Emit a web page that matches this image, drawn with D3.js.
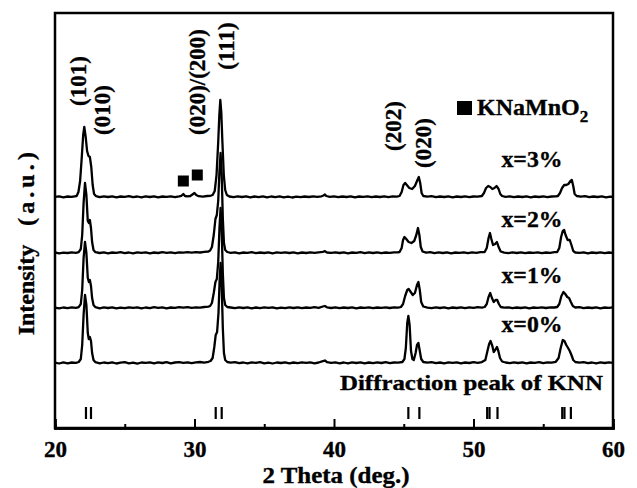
<!DOCTYPE html>
<html><head><meta charset="utf-8">
<script src="https://d3js.org/d3.v7.min.js"></script>
<style>
html,body{margin:0;padding:0;background:#fff;}
text{font-family:"Liberation Serif","Times New Roman",serif;font-weight:bold;fill:#000;stroke:#000;stroke-width:0.35px;}
</style></head>
<body><div id="chart"></div>
<script>
// ---- data: [2θ (deg), intensity (a.u.)] ----
const sampleLabels = ["x=0%","x=1%","x=2%","x=3%"];
const baselineOffsets = [65,120,175,231];

const pattern0 = [[20.0,0.4],[20.3,-0.5],[20.6,0.6],[20.9,-0.3],[21.2,0.5],[21.5,0.2],[21.7,1.0],[21.85,4],[21.95,18],[22.05,48],[22.15,68],[22.25,58],[22.35,30],[22.42,24],[22.5,26],[22.58,22],[22.66,10],[22.76,3],[22.9,0.8],[23.2,-0.4],[23.5,0.5],[23.8,-0.2],[24.1,0.6],[24.4,-0.5],[24.7,0.3],[25.0,0.8],[25.3,-0.3],[25.6,0.4],[25.9,-0.6],[26.2,0.5],[26.5,0.1],[26.8,0.7],[27.1,-0.4],[27.4,0.6],[27.7,0],[28.0,0.8],[28.3,-0.3],[28.6,0.5],[28.9,0.9],[29.2,0.2],[29.5,0.7],[29.8,-0.2],[30.1,0.6],[30.4,1.0],[30.7,0.4],[31.0,1.2],[31.15,2],[31.3,5],[31.42,16],[31.52,28],[31.62,31],[31.72,50],[31.8,82],[31.87,100],[31.95,78],[32.03,35],[32.11,10],[32.2,3],[32.35,1],[32.6,0.3],[32.9,0.8],[33.2,-0.2],[33.5,0.5],[33.8,-0.4],[34.1,0.6],[34.4,0.1],[34.7,0.8],[35.0,-0.3],[35.3,0.4],[35.6,-0.5],[35.9,0.5],[36.2,0],[36.5,0.7],[36.8,-0.3],[37.1,0.5],[37.4,-0.2],[37.7,0.6],[38.0,0.1],[38.3,0.7],[38.6,-0.3],[38.9,0.5],[39.2,1.8],[39.35,2.5],[39.5,0.8],[39.8,0.2],[40.1,0.7],[40.4,-0.3],[40.7,0.5],[41.0,-0.4],[41.3,0.6],[41.6,0],[41.9,0.7],[42.2,-0.3],[42.5,0.5],[42.8,-0.2],[43.1,0.6],[43.4,0],[43.7,0.8],[44.0,-0.2],[44.3,0.5],[44.6,0.3],[44.9,1.0],[45.05,4],[45.15,15],[45.25,40],[45.33,47],[45.42,38],[45.52,12],[45.62,4],[45.72,3],[45.85,10],[45.95,18],[46.05,20],[46.15,12],[46.25,4],[46.4,1],[46.7,0.3],[47.0,0.8],[47.3,-0.2],[47.6,0.5],[47.9,-0.3],[48.2,0.6],[48.5,0.1],[48.8,0.7],[49.1,-0.3],[49.4,0.5],[49.7,0],[50.0,0.8],[50.3,0.2],[50.6,0.9],[50.85,3],[51.0,12],[51.12,19],[51.22,22],[51.35,17],[51.45,11],[51.55,13],[51.68,16],[51.78,12],[51.9,5],[52.05,1.5],[52.3,0.5],[52.6,-0.2],[52.9,0.6],[53.2,0],[53.5,0.7],[53.8,-0.3],[54.1,0.5],[54.4,0.1],[54.7,0.8],[55.0,-0.2],[55.3,0.6],[55.6,0.4],[55.9,1.2],[56.1,5],[56.25,15],[56.4,23],[56.52,22],[56.65,18],[56.78,15],[56.9,12],[57.02,8],[57.15,3],[57.3,1],[57.6,0.3],[57.9,0.8],[58.2,-0.2],[58.5,0.5],[58.8,-0.4],[59.1,0.6],[59.4,0],[59.7,0.7],[60.0,0.2]];

const pattern1 = [[20.0,0.3],[20.3,-0.4],[20.6,0.5],[20.9,-0.2],[21.2,0.6],[21.5,0.1],[21.7,0.9],[21.85,4],[21.95,18],[22.05,50],[22.15,66],[22.25,55],[22.35,30],[22.43,26],[22.5,28],[22.58,22],[22.66,10],[22.76,3],[22.9,0.8],[23.2,-0.3],[23.5,0.6],[23.8,0],[24.1,0.7],[24.4,-0.4],[24.7,0.4],[25.0,-0.2],[25.3,0.7],[25.6,0.1],[25.9,0.6],[26.2,-0.4],[26.5,0.5],[26.8,-0.1],[27.1,0.8],[27.4,0.2],[27.7,0.6],[28.0,-0.3],[28.3,0.5],[28.6,0.1],[28.9,0.8],[29.2,0.3],[29.5,0.9],[29.8,0.2],[30.1,0.7],[30.4,0.4],[30.7,1.0],[31.0,1.4],[31.12,2],[31.25,5],[31.38,15],[31.5,26],[31.6,29],[31.7,46],[31.79,80],[31.87,100],[31.95,78],[32.03,35],[32.11,10],[32.2,3],[32.35,1],[32.6,0.5],[32.9,-0.2],[33.2,0.6],[33.5,0],[33.8,0.7],[34.1,-0.3],[34.4,0.5],[34.7,-0.1],[35.0,0.6],[35.3,0.1],[35.6,0.7],[35.9,-0.3],[36.2,0.4],[36.5,-0.2],[36.8,0.6],[37.1,0],[37.4,0.7],[37.7,-0.2],[38.0,0.5],[38.3,0.1],[38.6,0.8],[38.9,0.2],[39.2,1.5],[39.35,2],[39.5,0.6],[39.8,0],[40.1,0.6],[40.4,-0.2],[40.7,0.5],[41.0,0],[41.3,0.7],[41.6,-0.3],[41.9,0.5],[42.2,0.1],[42.5,0.7],[42.8,-0.2],[43.1,0.5],[43.4,0.2],[43.7,0.6],[44.0,0],[44.3,0.7],[44.6,0.4],[44.8,1],[44.95,4],[45.1,12],[45.25,18],[45.35,19],[45.5,16],[45.65,13],[45.8,15],[45.95,23],[46.05,26],[46.15,18],[46.25,6],[46.4,1.5],[46.7,0.4],[47.0,-0.2],[47.3,0.6],[47.6,0],[47.9,0.7],[48.2,-0.3],[48.5,0.5],[48.8,0],[49.1,0.7],[49.4,-0.2],[49.7,0.6],[50.0,0.1],[50.3,0.8],[50.6,0.4],[50.8,1],[50.95,4],[51.08,11],[51.2,15],[51.32,10],[51.45,6],[51.58,8],[51.7,8],[51.82,4],[51.95,1],[52.2,0.3],[52.5,0.7],[52.8,-0.2],[53.1,0.5],[53.4,0],[53.7,0.7],[54.0,-0.3],[54.3,0.5],[54.6,0.1],[54.9,0.7],[55.2,0],[55.5,0.6],[55.8,0.5],[56.0,1],[56.15,4],[56.3,12],[56.45,16],[56.58,14],[56.72,11],[56.85,10],[56.98,6],[57.12,2],[57.3,0.5],[57.6,0.8],[57.9,-0.2],[58.2,0.5],[58.5,0],[58.8,0.7],[59.1,-0.3],[59.4,0.5],[59.7,0.1],[60.0,0.6]];

const pattern2 = [[20.0,0.5],[20.3,-0.3],[20.6,0.4],[20.9,0],[21.2,0.7],[21.5,0.2],[21.7,0.9],[21.85,4],[21.95,18],[22.05,50],[22.15,70],[22.25,58],[22.35,32],[22.43,30],[22.5,33],[22.58,25],[22.66,11],[22.76,3],[22.9,0.8],[23.2,0],[23.5,0.6],[23.8,-0.3],[24.1,0.5],[24.4,0.1],[24.7,0.8],[25.0,-0.2],[25.3,0.5],[25.6,-0.4],[25.9,0.6],[26.2,0.1],[26.5,0.7],[26.8,-0.3],[27.1,0.5],[27.4,0],[27.7,0.8],[28.0,0.2],[28.3,0.6],[28.6,-0.2],[28.9,0.7],[29.2,0.3],[29.5,0.8],[29.8,0.4],[30.1,0.9],[30.4,0.5],[30.7,1.1],[31.0,1.5],[31.12,2.5],[31.25,6],[31.38,18],[31.5,34],[31.6,38],[31.7,52],[31.79,82],[31.87,100],[31.95,78],[32.03,35],[32.11,10],[32.2,3],[32.35,1],[32.6,0.2],[32.9,0.7],[33.2,-0.3],[33.5,0.5],[33.8,0.1],[34.1,0.8],[34.4,-0.2],[34.7,0.5],[35.0,0],[35.3,0.7],[35.6,-0.3],[35.9,0.6],[36.2,0.2],[36.5,0.7],[36.8,0],[37.1,0.6],[37.4,-0.3],[37.7,0.5],[38.0,0],[38.3,0.6],[38.6,0.1],[38.9,0.7],[39.2,1.2],[39.35,1.8],[39.5,0.5],[39.8,0.1],[40.1,0.7],[40.4,0],[40.7,0.6],[41.0,-0.3],[41.3,0.5],[41.6,0.1],[41.9,0.8],[42.2,-0.2],[42.5,0.6],[42.8,0],[43.1,0.7],[43.4,-0.2],[43.7,0.5],[44.0,0.2],[44.3,0.7],[44.55,0.6],[44.7,1],[44.85,5],[44.95,13],[45.05,16],[45.18,14],[45.35,11],[45.55,10],[45.75,12],[45.9,18],[46.02,25],[46.12,18],[46.22,6],[46.35,1.5],[46.6,0.3],[46.9,0.8],[47.2,-0.2],[47.5,0.6],[47.8,0],[48.1,0.7],[48.4,-0.3],[48.7,0.5],[49.0,0.1],[49.3,0.7],[49.6,-0.2],[49.9,0.6],[50.2,0.2],[50.5,0.8],[50.8,1],[50.95,5],[51.08,15],[51.18,20],[51.28,14],[51.4,8],[51.55,9],[51.68,11],[51.8,6],[51.95,1.5],[52.2,0.4],[52.5,-0.2],[52.8,0.6],[53.1,0],[53.4,0.7],[53.7,-0.2],[54.0,0.5],[54.3,0.1],[54.6,0.7],[54.9,-0.2],[55.2,0.5],[55.5,0.2],[55.8,0.8],[56.0,1],[56.15,5],[56.28,16],[56.4,22],[56.5,23],[56.6,18],[56.75,13],[56.9,13],[57.02,8],[57.15,2],[57.3,0.5],[57.6,0.1],[57.9,0.7],[58.2,-0.3],[58.5,0.5],[58.8,0],[59.1,0.7],[59.4,-0.2],[59.7,0.5],[60.0,0.1]];

const pattern3 = [[20.0,0.2],[20.3,0.7],[20.6,-0.3],[20.9,0.5],[21.2,0.1],[21.4,0.7],[21.55,1],[21.68,5],[21.8,16],[21.92,40],[22.02,62],[22.1,70],[22.2,60],[22.3,46],[22.4,41],[22.5,40],[22.6,30],[22.7,12],[22.8,3],[22.95,0.8],[23.2,-0.2],[23.5,0.6],[23.8,0],[24.1,0.7],[24.4,-0.3],[24.7,0.5],[25.0,0.1],[25.3,0.8],[25.6,-0.2],[25.9,0.5],[26.2,-0.4],[26.5,0.6],[26.8,0],[27.1,0.7],[27.4,-0.3],[27.7,0.5],[28.0,0.1],[28.3,0.6],[28.6,-0.2],[28.9,0.6],[29.05,1.2],[29.2,3],[29.32,1],[29.5,0.6],[29.7,1],[29.85,2.5],[30.0,4],[30.12,2],[30.3,0.8],[30.6,0.4],[30.9,1],[31.15,1.2],[31.3,2],[31.45,6],[31.58,22],[31.7,55],[31.78,82],[31.85,97],[31.92,85],[32.0,55],[32.1,22],[32.2,7],[32.32,2],[32.5,0.5],[32.8,-0.2],[33.1,0.6],[33.4,0],[33.7,0.7],[34.0,-0.3],[34.3,0.5],[34.6,-0.1],[34.9,0.6],[35.2,-0.4],[35.5,0.5],[35.8,-0.1],[36.1,0.6],[36.4,-0.3],[36.7,0.4],[37.0,-0.5],[37.3,0.3],[37.6,-0.2],[37.9,0.5],[38.2,0],[38.5,0.6],[38.8,0.1],[39.1,0.7],[39.25,1.5],[39.35,2.5],[39.45,1],[39.7,0.2],[40.0,0.7],[40.3,-0.2],[40.6,0.5],[40.9,0],[41.2,0.6],[41.5,-0.3],[41.8,0.5],[42.1,0.1],[42.4,0.7],[42.7,-0.2],[43.0,0.5],[43.3,0],[43.6,0.6],[43.9,-0.1],[44.2,0.6],[44.5,0.3],[44.7,1],[44.85,5],[44.98,12],[45.1,14],[45.22,12],[45.4,9],[45.6,8],[45.8,11],[45.98,17],[46.08,20],[46.18,14],[46.28,4],[46.4,1],[46.7,0.3],[47.0,0.8],[47.3,-0.2],[47.6,0.5],[47.9,0],[48.2,0.7],[48.5,-0.3],[48.8,0.5],[49.1,0],[49.4,0.6],[49.7,-0.2],[50.0,0.5],[50.3,0.3],[50.6,1],[50.75,4],[50.9,9],[51.05,11],[51.2,10],[51.35,8],[51.5,9],[51.65,11],[51.8,8],[51.92,3],[52.05,1],[52.3,0.2],[52.6,0.7],[52.9,-0.2],[53.2,0.5],[53.5,0],[53.8,0.6],[54.1,-0.3],[54.4,0.5],[54.7,0],[55.0,0.6],[55.3,-0.2],[55.6,0.5],[55.9,0.6],[56.05,1],[56.2,4],[56.35,9],[56.5,12],[56.65,12],[56.8,13],[56.95,16],[57.05,17],[57.15,11],[57.25,3],[57.4,1],[57.7,0.3],[58.0,0.8],[58.3,-0.2],[58.6,0.5],[58.9,0],[59.2,0.6],[59.5,-0.3],[59.8,0.4],[60.0,0.1]];

const patterns = [pattern0, pattern1, pattern2, pattern3];

// KNN reference diffraction peaks (2θ)
const knnPeaks = [22.22,22.58,31.52,31.95,45.33,46.12,50.98,51.15,51.72,56.36,56.52,56.98];
// KNaMnO2 impurity peaks in x=3% (2θ, marker intensity)
const impurityTheta = [29.2,30.2];
const impurityLevel = [247,253];
// hkl labels
const hklText = ["(101)","(010)","(020)/(200)","(111)","(202)","(020)"];
const hklTheta = [21.65,23.37,30.25,32.27,44.3,46.45];
const hklLevel = [347,318,346,382,302,285];
// axis ticks
const majorTicks = [20,30,40,50,60];
const minorTicks = [25,35,45,55];

// ---- drawing ----
const W = 637, H = 488;
const svg = d3.select("#chart").append("svg").attr("width",W).attr("height",H);
const x = d3.scaleLinear().domain([20,60]).range([55,613]);
const y = d3.scaleLinear().domain([0,415]).range([428,13]);

// frame
svg.append("rect").attr("x",x(20)).attr("y",y(415)).attr("width",x(60)-x(20)).attr("height",y(0)-y(415))
  .attr("fill","none").attr("stroke","#000").attr("stroke-width",2.5);

// x axis
const axMaj = svg.append("g").attr("transform",`translate(0,${y(0)})`)
  .call(d3.axisBottom(x).tickValues(majorTicks).tickSize(-9).tickPadding(13).tickFormat(d3.format("d")));
const axMin = svg.append("g").attr("transform",`translate(0,${y(0)})`)
  .call(d3.axisBottom(x).tickValues(minorTicks).tickSize(-4).tickFormat(""));
[axMaj,axMin].forEach(g=>{
  g.select(".domain").attr("stroke","#000").attr("stroke-width",2.5);
  g.selectAll(".tick line").attr("stroke","#000").attr("stroke-width",2);
});
axMaj.selectAll(".tick text").style("font-size","23px").style("font-family",'"Liberation Serif","Times New Roman",serif').style("font-weight","bold");

// axis titles
svg.append("text").attr("x",336).attr("y",483).attr("text-anchor","middle").style("font-size","23px")
  .attr("textLength",147).attr("lengthAdjust","spacingAndGlyphs").text("2 Theta (deg.)");
svg.append("text").attr("transform","translate(26,290) rotate(-90)").attr("text-anchor","middle")
  .attr("dominant-baseline","central").style("font-size","24px").text("Intensity");
svg.append("text").attr("transform","translate(26,189) rotate(-90)").attr("text-anchor","middle")
  .attr("dominant-baseline","central").style("font-size","24px")
  .attr("textLength",74).attr("lengthAdjust","spacing").text("(a.u.)");

// patterns
const line = d3.line().x(d=>x(d[0])).y(d=>y(d[1]));
patterns.forEach((p,i)=>{
  svg.append("path").datum(p.map(d=>[d[0], d[1]+baselineOffsets[i]]))
    .attr("d",line).attr("fill","none").attr("stroke","#000").attr("stroke-width",2.3)
    .attr("stroke-linejoin","round");
});

// sample labels
const labelLevel = [96,145,201,261];
sampleLabels.forEach((t,i)=>{
  svg.append("text").attr("x",532).attr("y",y(labelLevel[i])).attr("text-anchor","middle")
    .style("font-size","23px").attr("textLength",61).attr("lengthAdjust","spacingAndGlyphs").text(t);
});

// KNN reference sticks
svg.selectAll(".stick").data(knnPeaks).enter().append("line")
  .attr("x1",d=>x(d)).attr("x2",d=>x(d)).attr("y1",407).attr("y2",419)
  .attr("stroke","#000").attr("stroke-width",2.2);
svg.append("text").attr("x",603).attr("y",390).attr("text-anchor","end").style("font-size","22px")
  .attr("textLength",263).attr("lengthAdjust","spacingAndGlyphs").text("Diffraction peak of KNN");

// impurity markers
impurityTheta.forEach((t,i)=>{
  svg.append("rect").attr("x",x(t)-5.5).attr("y",y(impurityLevel[i])-5.5).attr("width",11).attr("height",11).attr("fill","#000");
});

// legend
svg.append("rect").attr("x",457).attr("y",101).attr("width",15).attr("height",14).attr("fill","#000");
const leg = svg.append("text").attr("x",477).attr("y",115).style("font-size","24px");
leg.append("tspan").text("KNaMnO");
leg.append("tspan").attr("dy",7).style("font-size","17px").text("2");

// hkl labels
hklText.forEach((t,i)=>{
  svg.append("text").attr("transform",`translate(${x(hklTheta[i])},${y(hklLevel[i])}) rotate(-90)`)
    .attr("text-anchor","middle").attr("dominant-baseline","central").style("font-size","23px").text(t);
});
</script></body></html>
